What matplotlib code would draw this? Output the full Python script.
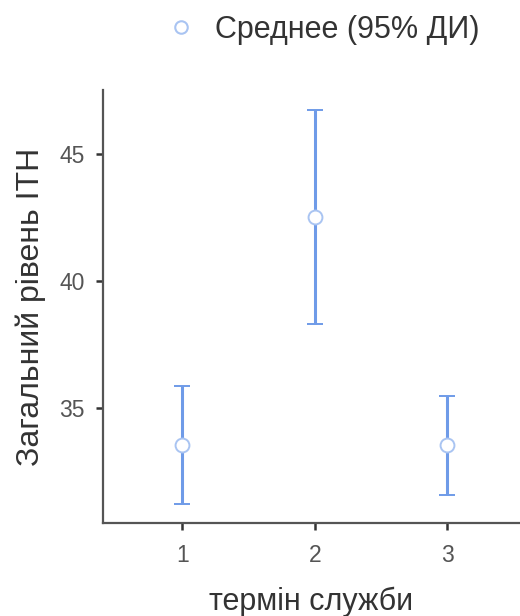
import numpy as np
import matplotlib.pyplot as plt

plt.rcParams['font.family'] = ['Liberation Sans', 'DejaVu Sans']

# дані
groups = [1, 2, 3]
means = [33.54, 42.52, 33.54]
ci_low = [31.22, 38.31, 31.57]
ci_high = [35.87, 46.73, 35.47]

line_col = '#6f9be8'
text_col = '#555555'

fig = plt.figure(figsize=(5.2, 6.16), dpi=100)
ax = fig.add_axes([0.198, 0.151, 0.802, 0.703])

m = np.array(means)
err = np.vstack([m - np.array(ci_low), np.array(ci_high) - m])
ax.errorbar(groups, means, yerr=err, fmt='o', color=line_col, ecolor=line_col,
            elinewidth=2.2, capsize=6, capthick=2.2, markersize=10,
            markerfacecolor='white', markeredgecolor='#a9c4f2', markeredgewidth=1.4,
            zorder=3)

ax.set_xlim(0.4, 3.55)
ax.set_ylim(30.47, 47.52)
ax.set_xticks(groups)
ax.set_yticks([35, 40, 45])
ax.tick_params(colors='#333333', labelcolor=text_col, labelsize=16.5, width=1.8,
               length=5, pad=8)
ax.tick_params(axis='x', pad=10)
for s in ['top', 'right']:
    ax.spines[s].set_visible(False)
for s in ['left', 'bottom']:
    ax.spines[s].set_color('#555555')
    ax.spines[s].set_linewidth(1.6)

ax.set_xlabel('термін служби', fontsize=22, color='#333333', labelpad=14)
ax.set_ylabel('Загальний рівень ІТН', fontsize=23, color='#333333', labelpad=10)

# легенда зверху
h = plt.Line2D([], [], marker='o', linestyle='none', markersize=9,
               markerfacecolor='white', markeredgecolor='#a9c4f2', markeredgewidth=1.5)
fig.legend([h], ['Среднее (95% ДИ)'], loc='center', bbox_to_anchor=(0.62, 0.951),
           frameon=False, fontsize=22, labelcolor='#333333',
           handlelength=1.0, handletextpad=0.6)

fig.savefig('out.png', dpi=100)
